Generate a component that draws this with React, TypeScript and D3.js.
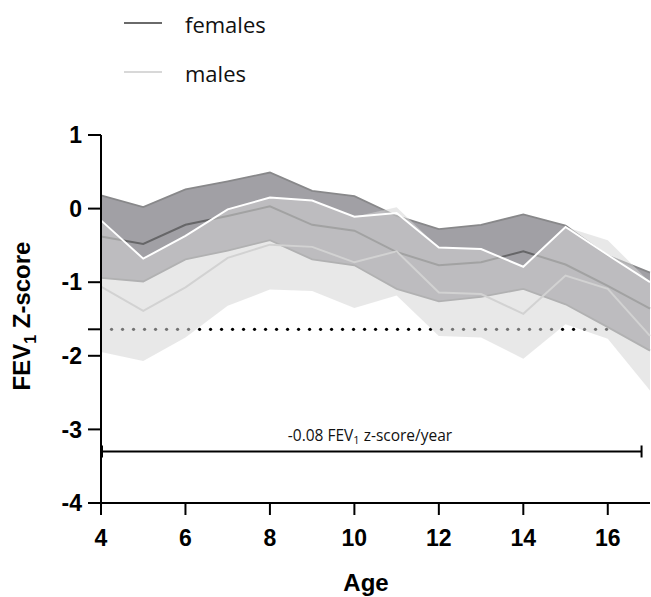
import React from "react";
import * as d3 from "d3";

const ages = [4, 5, 6, 7, 8, 9, 10, 11, 12, 13, 14, 15, 16, 17];
const femaleUpper = [0.18, 0.02, 0.26, 0.37, 0.49, 0.24, 0.17, -0.1, -0.28, -0.22, -0.08, -0.23, -0.64, -0.87];
const femaleMean = [-0.38, -0.48, -0.22, -0.1, 0.03, -0.22, -0.3, -0.59, -0.77, -0.73, -0.58, -0.76, -1.05, -1.36];
const femaleLower = [-0.94, -0.99, -0.69, -0.57, -0.43, -0.69, -0.77, -1.09, -1.26, -1.2, -1.09, -1.3, -1.61, -1.93];
const maleUpperLine = [-0.16, -0.68, -0.37, -0.01, 0.15, 0.11, -0.11, -0.06, -0.53, -0.55, -0.79, -0.25, -0.63, -1.0];
const maleUpper = [-0.16, -0.68, -0.37, -0.01, 0.15, 0.11, -0.11, 0.02, -0.53, -0.55, -0.79, -0.25, -0.43, -1.0];
const maleMean = [-1.06, -1.39, -1.07, -0.67, -0.49, -0.52, -0.73, -0.58, -1.14, -1.16, -1.43, -0.91, -1.09, -1.73];
const maleLower = [-1.95, -2.07, -1.75, -1.32, -1.1, -1.12, -1.35, -1.18, -1.73, -1.75, -2.04, -1.57, -1.77, -2.47];

const yTicks = [1, 0, -1, -2, -3, -4];
const xTicks = [4, 6, 8, 10, 12, 14, 16];
const threshold = -1.64;
const dotStart = 4.25;
const dotEnd = 16;
const slopeStart = 4;
const slopeEnd = 16.8;
const slopeLevel = -3.3;

export default function App() {
  const W = 651, H = 597;
  const x = d3.scaleLinear().domain([4, 17]).range([101, 650]);
  const y = d3.scaleLinear().domain([-4, 1]).range([503, 135]);

  const area = (up: number[], lo: number[]) =>
    d3.area<number>().x((_, i) => x(ages[i])).y0((_, i) => y(lo[i])).y1((_, i) => y(up[i]))(ages) || "";
  const line = (v: number[]) =>
    d3.line<number>().x((_, i) => x(ages[i])).y((_, i) => y(v[i]))(ages) || "";

  const dots: number[] = [];
  const x0 = x(dotStart), x1 = x(dotEnd);
  for (let px = x0; px <= x1 + 0.1; px += 11) dots.push(px);

  const bold = "'Liberation Sans', Arial, sans-serif";
  const reg = "'Open Sans', 'Noto Sans', sans-serif";

  return (
    <svg width={W} height={H} style={{ position: "absolute", left: 0, top: 0 }}>
      <rect width={W} height={H} fill="#fff" />
      {/* legend */}
      <line x1={124} x2={162} y1={23} y2={23} stroke="#6a6a6a" strokeWidth={2} />
      <text x={185} y={33} fontFamily={reg} fontSize={22} fill="#111">females</text>
      <line x1={124} x2={162} y1={72} y2={72} stroke="#d8d8d8" strokeWidth={2} />
      <text x={185} y={82} fontFamily={reg} fontSize={22} fill="#111">males</text>

      {/* threshold dots */}
      {dots.map((d, i) => (
        <circle key={i} cx={d} cy={y(threshold)} r={1.6} fill="#000" />
      ))}

      {/* female band */}
      <path d={area(femaleUpper, femaleLower)} fill="#a1a0a5" />
      <path d={line(femaleUpper)} fill="none" stroke="#88888a" strokeWidth={1.8} />
      <path d={line(femaleLower)} fill="none" stroke="#88888a" strokeWidth={1.8} />
      <path d={line(femaleMean)} fill="none" stroke="#666668" strokeWidth={2} />

      {/* male band */}
      <path d={area(maleUpper, maleLower)} fill="rgb(212,212,212)" fillOpacity={0.54} />
      <path d={line(maleMean)} fill="none" stroke="#d2d2d2" strokeWidth={2} />
      <path d={line(maleUpperLine)} fill="none" stroke="#fff" strokeWidth={2} />

      {/* axes */}
      <line x1={x(4)} x2={x(4)} y1={y(1)} y2={y(-4) + 12} stroke="#000" strokeWidth={2} />
      <line x1={x(4)} x2={x(17)} y1={y(-4)} y2={y(-4)} stroke="#000" strokeWidth={2} />
      {yTicks.map((t) => (
        <g key={t}>
          <line x1={x(4) - 13} x2={x(4)} y1={y(t)} y2={y(t)} stroke="#000" strokeWidth={2} />
          <text x={82} y={y(t)} dy="0.36em" textAnchor="end" fontFamily={bold} fontWeight="bold" fontSize={23}>{t}</text>
        </g>
      ))}
      <line x1={x(4) - 13} x2={x(4)} y1={y(threshold)} y2={y(threshold)} stroke="#000" strokeWidth={2} />
      {xTicks.map((t) => (
        <g key={t}>
          <line x1={x(t)} x2={x(t)} y1={y(-4)} y2={y(-4) + 12} stroke="#000" strokeWidth={2} />
          <text x={x(t)} y={546} textAnchor="middle" fontFamily={bold} fontWeight="bold" fontSize={23}>{t}</text>
        </g>
      ))}
      <text x={366} y={591} textAnchor="middle" fontFamily={bold} fontWeight="bold" fontSize={24}>Age</text>
      <text transform={`translate(30,316) rotate(-90)`} textAnchor="middle" fontFamily={bold} fontWeight="bold" fontSize={24}>
        FEV<tspan fontSize={16} dy={6}>1</tspan><tspan dy={-6}> Z-score</tspan>
      </text>

      {/* slope annotation */}
      <line x1={x(slopeStart)} x2={x(slopeEnd)} y1={y(slopeLevel)} y2={y(slopeLevel)} stroke="#000" strokeWidth={2} />
      <line x1={x(slopeStart) + 1} x2={x(slopeStart) + 1} y1={y(slopeLevel) - 6} y2={y(slopeLevel) + 6} stroke="#000" strokeWidth={2} />
      <line x1={x(slopeEnd)} x2={x(slopeEnd)} y1={y(slopeLevel) - 6} y2={y(slopeLevel) + 6} stroke="#000" strokeWidth={2} />
      <text x={370} y={441} textAnchor="middle" fontFamily={reg} fontSize={15.5} fill="#111">
        -0.08 FEV<tspan fontSize={11} dy={3}>1</tspan><tspan dy={-3}> z-score/year</tspan>
      </text>
    </svg>
  );
}
